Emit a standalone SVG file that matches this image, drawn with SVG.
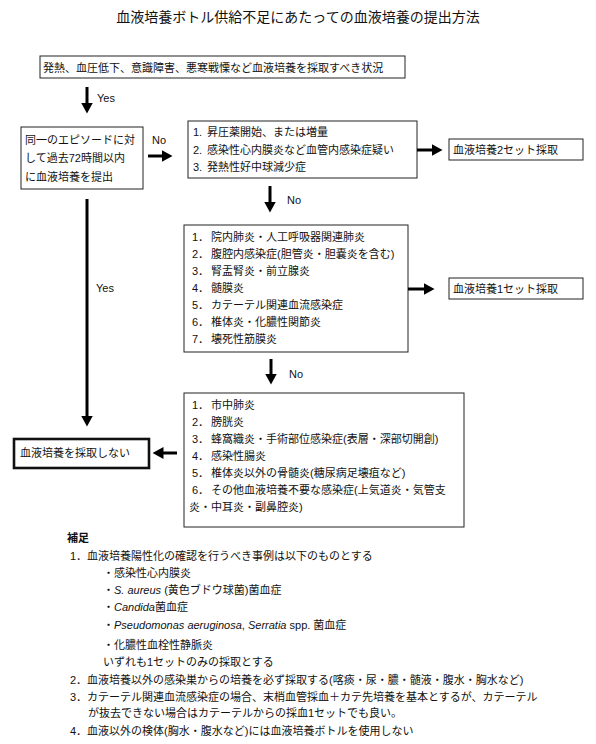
<svg xmlns="http://www.w3.org/2000/svg" width="596" height="744" viewBox="0 0 596 744">
<style>
text{font-family:"Liberation Sans","Noto Sans CJK JP",sans-serif;font-size:11px;fill:#111}
.title{font-size:14px}
.box{fill:#fff;stroke:#222;stroke-width:1}
.thick{fill:#fff;stroke:#111;stroke-width:2.6}
.conn{stroke:#000;stroke-width:3;fill:none}
.b{font-weight:bold}
.i{font-style:italic}
</style>
<defs>
<marker id="ah" viewBox="0 0 11 12" markerWidth="11" markerHeight="12" refX="0.5" refY="6" orient="auto" markerUnits="userSpaceOnUse">
<path d="M0,0 L11,6 L0,12 z" fill="#000"/>
</marker>
</defs>
<rect width="596" height="744" fill="#fff"/>
<text class="title" x="298" y="22" text-anchor="middle">血液培養ボトル供給不足にあたっての血液培養の提出方法</text>

<g id="n-situation">
<rect class="box" x="40" y="56" width="365" height="22"/>
<text x="43" y="71.5">発熱、血圧低下、意識障害、悪寒戦慄など血液培養を採取すべき状況</text>
</g>

<g id="n-within72">
<rect class="box" x="21" y="127" width="122" height="62"/>
<text x="25" y="144">同一のエピソードに対</text>
<text x="25" y="162">して過去72時間以内</text>
<text x="25" y="181">に血液培養を提出</text>
</g>

<g id="n-criteria2">
<rect class="box" x="188" y="121" width="229" height="57"/>
<text x="193" y="136">1.<tspan x="207">昇圧薬開始、または増量</tspan></text>
<text x="193" y="154">2.<tspan x="207">感染性心内膜炎など血管内感染症疑い</tspan></text>
<text x="193" y="171">3.<tspan x="207">発熱性好中球減少症</tspan></text>
</g>

<g id="n-two-sets">
<rect class="box" x="449" y="139" width="134" height="21"/>
<text x="453" y="154">血液培養2セット採取</text>
</g>

<g id="n-criteria1">
<rect class="box" x="184" y="225" width="224" height="127"/>
<text x="192" y="241">1．<tspan x="211">院内肺炎・人工呼吸器関連肺炎</tspan></text>
<text x="192" y="258">2．<tspan x="211">腹腔内感染症(胆管炎・胆嚢炎を含む)</tspan></text>
<text x="192" y="275">3．<tspan x="211">腎盂腎炎・前立腺炎</tspan></text>
<text x="192" y="292">4．<tspan x="211">髄膜炎</tspan></text>
<text x="192" y="309">5．<tspan x="211">カテーテル関連血流感染症</tspan></text>
<text x="192" y="326">6．<tspan x="211">椎体炎・化膿性関節炎</tspan></text>
<text x="192" y="343">7．<tspan x="211">壊死性筋膜炎</tspan></text>
</g>

<g id="n-one-set">
<rect class="box" x="449" y="278" width="134" height="21"/>
<text x="453" y="293">血液培養1セット採取</text>
</g>

<g id="n-criteria0">
<rect class="box" x="184" y="393" width="280" height="134"/>
<text x="192" y="409">1．<tspan x="211">市中肺炎</tspan></text>
<text x="192" y="426">2．<tspan x="211">膀胱炎</tspan></text>
<text x="192" y="443">3．<tspan x="211">蜂窩織炎・手術部位感染症(表層・深部切開創)</tspan></text>
<text x="192" y="460">4．<tspan x="211">感染性腸炎</tspan></text>
<text x="192" y="477">5．<tspan x="211">椎体炎以外の骨髄炎(糖尿病足壊疽など)</tspan></text>
<text x="192" y="494">6．<tspan x="211">その他血液培養不要な感染症(上気道炎・気管支</tspan></text>
<text x="189" y="511">炎・中耳炎・副鼻腔炎)</text>
</g>

<g id="n-none">
<rect class="thick" x="14" y="439" width="135" height="29"/>
<text x="20" y="457">血液培養を採取しない</text>
</g>

<g id="connectors">
<line class="conn" x1="87" y1="87" x2="87" y2="103" marker-end="url(#ah)"/>
<line class="conn" x1="148" y1="156" x2="162" y2="156" marker-end="url(#ah)"/>
<line class="conn" x1="417" y1="150" x2="432" y2="150" marker-end="url(#ah)"/>
<line class="conn" x1="270" y1="186" x2="270" y2="202" marker-end="url(#ah)"/>
<line class="conn" x1="408" y1="289" x2="424" y2="289" marker-end="url(#ah)"/>
<line class="conn" x1="271" y1="359" x2="271" y2="374" marker-end="url(#ah)"/>
<line class="conn" x1="177" y1="453" x2="163" y2="453" marker-end="url(#ah)"/>
<line class="conn" x1="87" y1="199" x2="87" y2="416" marker-end="url(#ah)"/>
<text x="97" y="102">Yes</text>
<text x="152" y="144">No</text>
<text x="287" y="204">No</text>
<text x="289" y="378">No</text>
<text x="96" y="292">Yes</text>
</g>

<g id="notes">
<text class="b" x="67" y="542">補足</text>
<text x="70" y="560">1．血液培養陽性化の確認を行うべき事例は以下のものとする</text>
<text x="103" y="577">・感染性心内膜炎</text>
<text x="103" y="594">・<tspan class="i">S. aureus</tspan> (黄色ブドウ球菌)菌血症</text>
<text x="103" y="611">・<tspan class="i">Candida</tspan>菌血症</text>
<text x="103" y="629">・<tspan class="i">Pseudomonas aeruginosa</tspan>, <tspan class="i">Serratia</tspan> spp. 菌血症</text>
<text x="103" y="649">・化膿性血栓性静脈炎</text>
<text x="103" y="666">いずれも1セットのみの採取とする</text>
<text x="70" y="684">2．血液培養以外の感染巣からの培養を必ず採取する(喀痰・尿・膿・髄液・腹水・胸水など)</text>
<text x="70" y="701">3．カテーテル関連血流感染症の場合、末梢血管採血＋カテ先培養を基本とするが、カテーテル</text>
<text x="88" y="717">が抜去できない場合はカテーテルからの採血1セットでも良い。</text>
<text x="70" y="735">4．血液以外の検体(胸水・腹水など)には血液培養ボトルを使用しない</text>
</g>
</svg>
